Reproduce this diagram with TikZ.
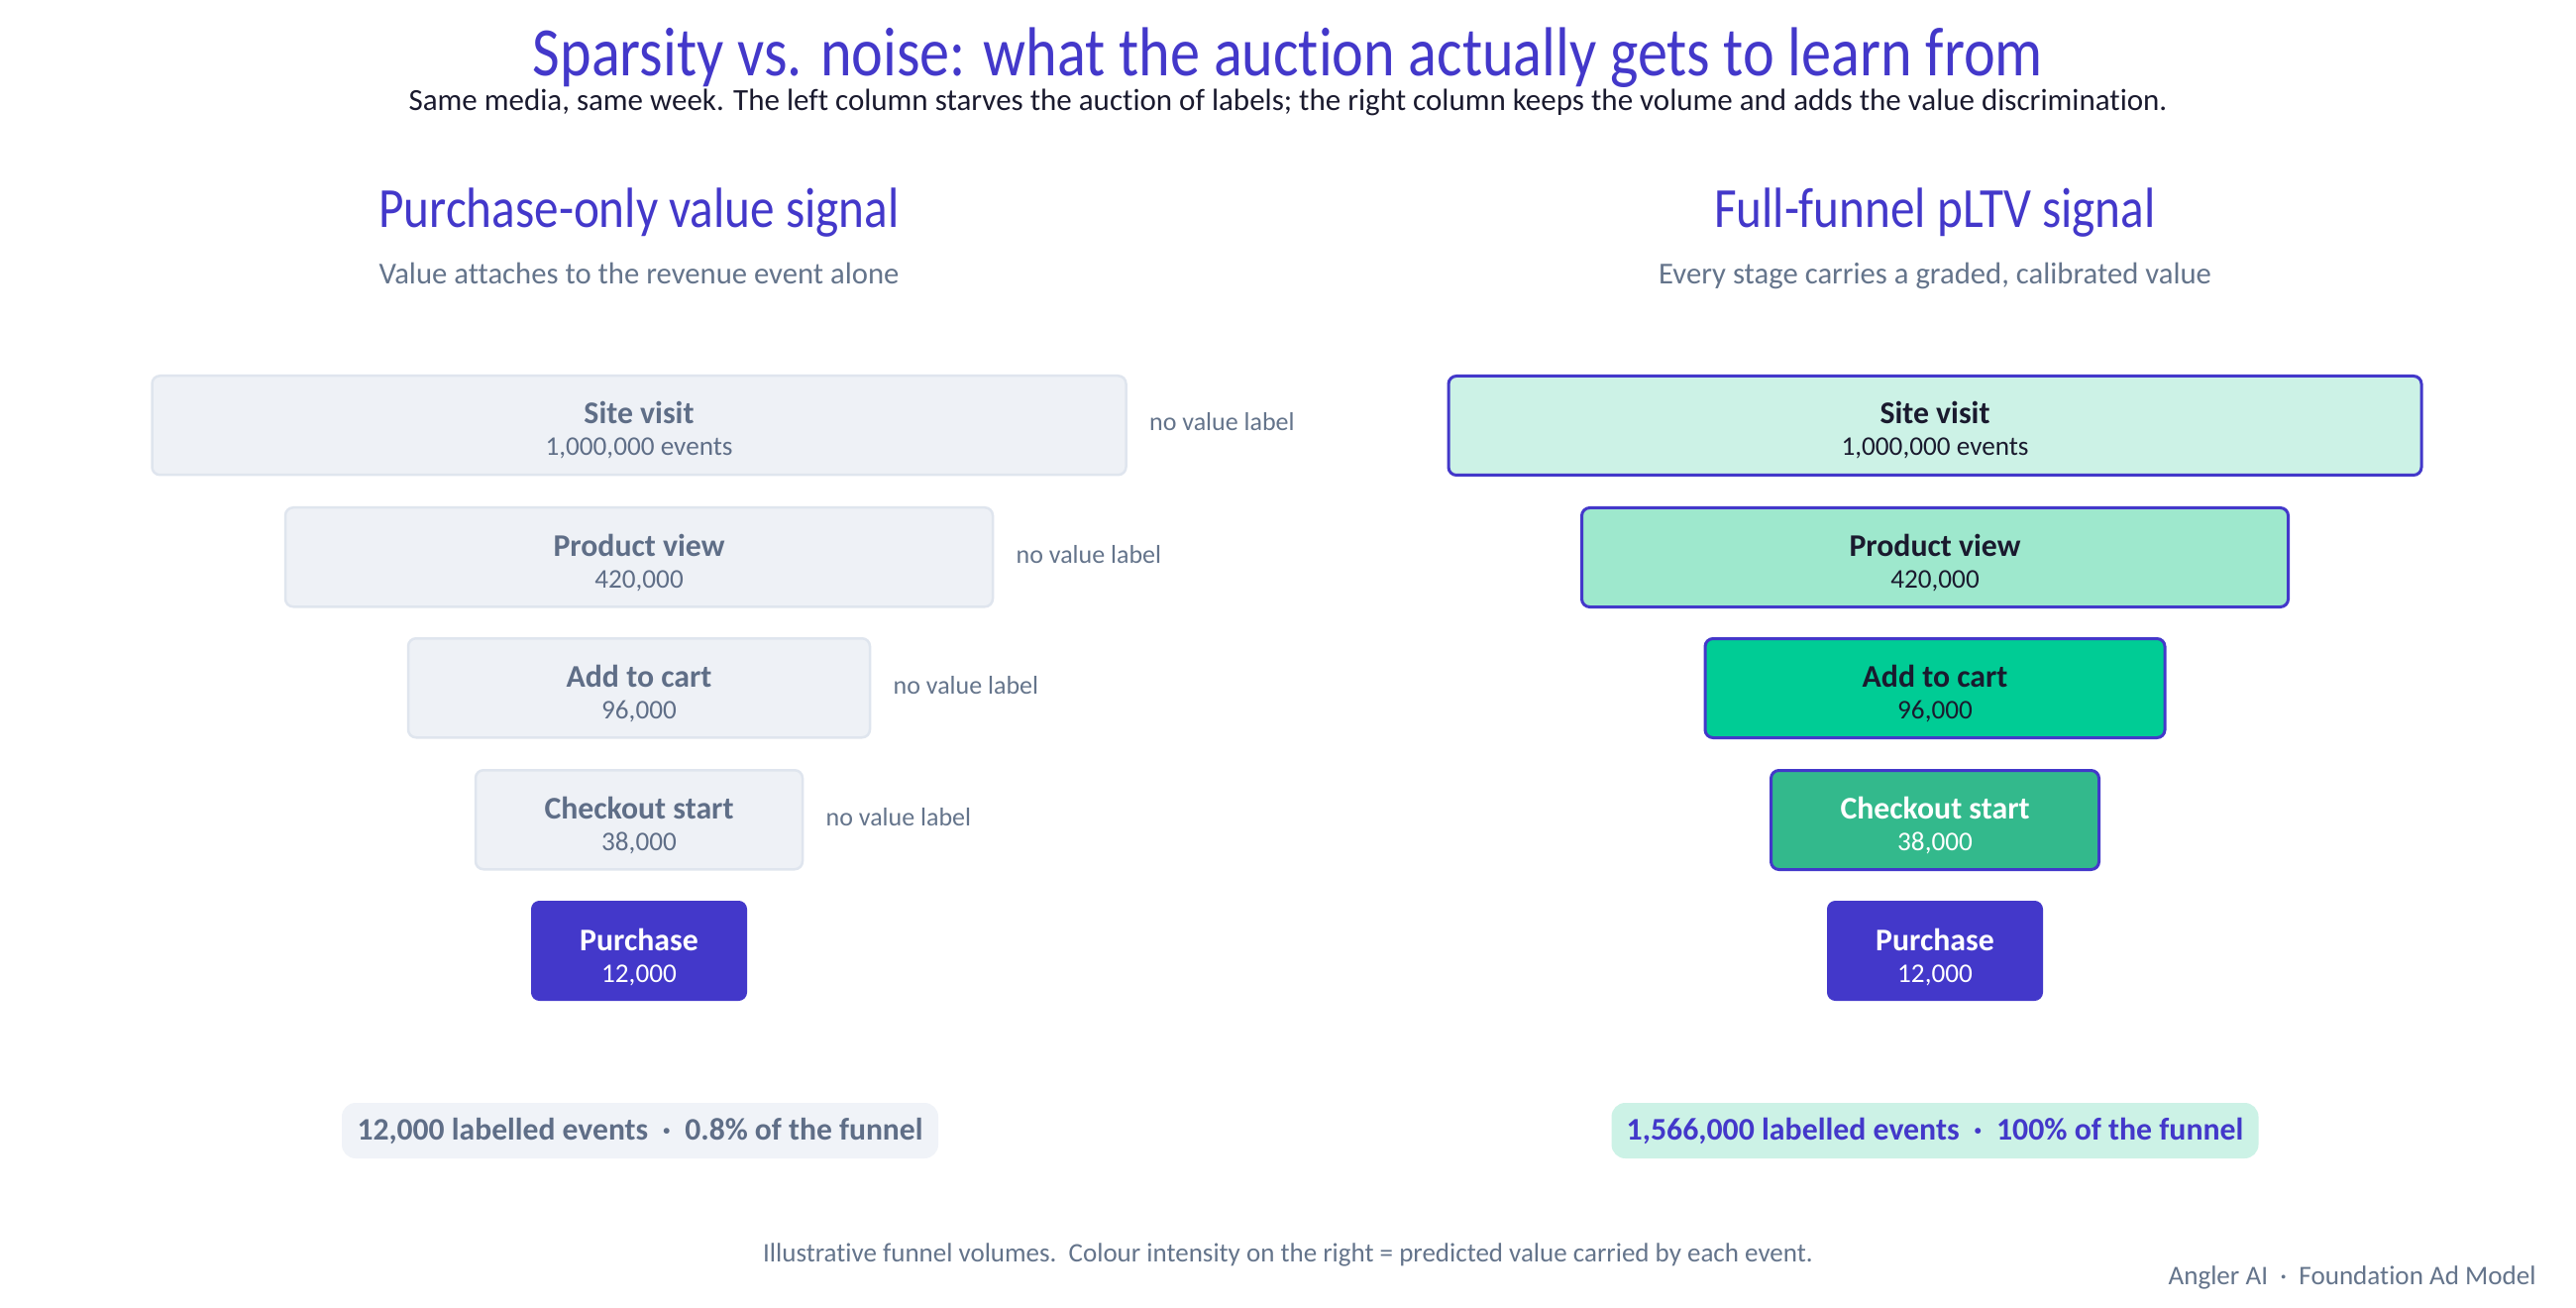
\documentclass[tikz,border=0pt]{standalone}
\usepackage{fontspec}
\setmainfont{Carlito}[Ligatures=NoCommon]
\newfontfamily\titlefont[FakeStretch=0.86,Ligatures=NoCommon]{Carlito}
\definecolor{indigo}{HTML}{4338CA}
\definecolor{slate}{HTML}{64748B}
\definecolor{boxslate}{HTML}{5F6E87}
\definecolor{ink}{HTML}{1A1A2E}
\definecolor{leftfill}{HTML}{EEF1F6}
\definecolor{leftline}{HTML}{DFE5EE}
\definecolor{pillleft}{HTML}{F0F3F8}
\definecolor{tealA}{HTML}{CCF2E6}
\definecolor{tealB}{HTML}{9EE8CD}
\definecolor{tealC}{HTML}{00CC95}
\definecolor{tealD}{HTML}{33B98C}
\tikzset{
  leftbox/.style={draw=leftline, line width=1.25pt, fill=leftfill, rounded corners=4pt, inner sep=0pt},
  rightbox/.style={draw=indigo, line width=1.5pt, rounded corners=4pt, inner sep=0pt},
  buybox/.style={draw=indigo, fill=indigo, line width=0.5pt, rounded corners=4pt, inner sep=0pt},
  btitle/.style={anchor=base, inner sep=0pt, font=\fontsize{15.9pt}{18pt}\selectfont\bfseries},
  bcount/.style={anchor=base, inner sep=0pt, font=\fontsize{13.6pt}{15pt}\selectfont},
  novalue/.style={anchor=base west, inner sep=0pt, text=slate, font=\fontsize{13pt}{15pt}\selectfont},
  pill/.style={rounded corners=7pt, inner sep=0pt, minimum height=28pt},
}
% #1 name, #2 centre x, #3 top y, #4 width (px), #5 box style, #6 title, #7 count, #8 text colour
\newcommand\stagebox[8]{%
  \node[#5, minimum width={#4*0.5pt}, minimum height=50pt, anchor=north] (#1) at (#2,#3) {};
  \node[btitle, text=#8] (#1-t) at (#2,#3+50) {#6};
  \node[bcount, text=#8] (#1-c) at (#2,#3+82) {#7};
}
\begin{document}
\begin{tikzpicture}[x=0.5pt,y=-0.5pt]
\useasboundingbox (0,0) rectangle (2600,1320);
\fill[white] (0,0) rectangle (2600,1320);

% titles
\node[anchor=base, inner sep=0pt, text=indigo, font=\titlefont\fontsize{35pt}{40pt}\selectfont] (title) at (1300,77) {Sparsity vs. noise: what the auction actually gets to learn from};
\node[anchor=base, inner sep=0pt, text=ink, font=\fontsize{15.5pt}{18pt}\selectfont] (subtitle) at (1300,112) {Same media, same week. The left column starves the auction of labels; the right column keeps the volume and adds the value discrimination.};

\node[anchor=base, inner sep=0pt, text=indigo, font=\titlefont\fontsize{28.6pt}{32pt}\selectfont] (lhead) at (645,230) {Purchase-only value signal};
\node[anchor=base, inner sep=0pt, text=slate, font=\fontsize{15.35pt}{18pt}\selectfont] (lsub) at (645,287) {Value attaches to the revenue event alone};
\node[anchor=base, inner sep=0pt, text=indigo, font=\titlefont\fontsize{28.6pt}{32pt}\selectfont] (rhead) at (1953,230) {Full-funnel pLTV signal};
\node[anchor=base, inner sep=0pt, text=slate, font=\fontsize{15.35pt}{18pt}\selectfont] (rsub) at (1953,287) {Every stage carries a graded, calibrated value};

% left funnel
\stagebox{l1}{645}{378}{983}{leftbox}{Site visit}{1,000,000 events}{boxslate}
\stagebox{l2}{645}{511}{714}{leftbox}{Product view}{420,000}{boxslate}
\stagebox{l3}{645}{643}{466}{leftbox}{Add to cart}{96,000}{boxslate}
\stagebox{l4}{645}{776}{330}{leftbox}{Checkout start}{38,000}{boxslate}
\stagebox{l5}{645}{909}{217}{buybox}{Purchase}{12,000}{white}

\node[novalue] (n1) at ([xshift=11pt]l1.east |- 0,435) {no value label};
\node[novalue] (n2) at ([xshift=11pt]l2.east |- 0,568) {no value label};
\node[novalue] (n3) at ([xshift=11pt]l3.east |- 0,700) {no value label};
\node[novalue] (n4) at ([xshift=11pt]l4.east |- 0,833) {no value label};

% right funnel
\stagebox{r1}{1953}{378}{982}{rightbox, fill=tealA}{Site visit}{1,000,000 events}{ink}
\stagebox{r2}{1953}{511}{713}{rightbox, fill=tealB}{Product view}{420,000}{ink}
\stagebox{r3}{1953}{643}{464}{rightbox, fill=tealC}{Add to cart}{96,000}{ink}
\stagebox{r4}{1953}{776}{331}{rightbox, fill=tealD}{Checkout start}{38,000}{white}
\stagebox{r5}{1953}{909}{217}{buybox}{Purchase}{12,000}{white}

% summary pills
\node[pill, fill=pillleft, minimum width=301pt] (lpill) at (646,1141) {};
\node[anchor=base, inner sep=0pt, text=boxslate, font=\fontsize{15.8pt}{18pt}\selectfont\bfseries] (lpill-t) at (646,1150) {12,000 labelled events\ \ ·\ \ 0.8\% of the funnel};
\node[pill, fill=tealA, minimum width=326.5pt] (rpill) at (1953,1141) {};
\node[anchor=base, inner sep=0pt, text=indigo, font=\fontsize{15.9pt}{18pt}\selectfont\bfseries] (rpill-t) at (1953,1150) {1,566,000 labelled events\ \ ·\ \ 100\% of the funnel};

% footer
\node[anchor=base, inner sep=0pt, text=slate, font=\fontsize{13.5pt}{16pt}\selectfont] (foot) at (1300,1273) {Illustrative funnel volumes.\ \ Colour intensity on the right = predicted value carried by each event.};
\node[anchor=base east, inner sep=0pt, text=slate, font=\fontsize{13.55pt}{16pt}\selectfont] (brand) at (2560,1296) {Angler AI\ \ ·\ \ Foundation Ad Model};
\end{tikzpicture}
\end{document}
